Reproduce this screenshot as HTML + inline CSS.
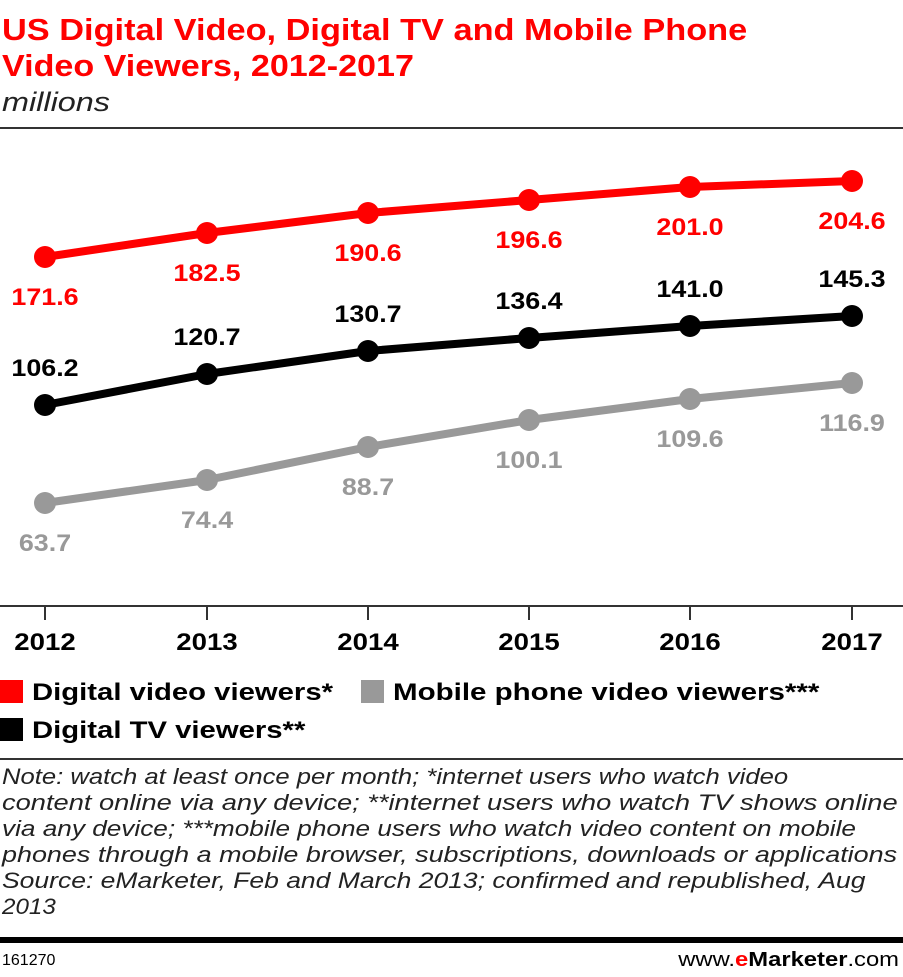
<!DOCTYPE html>
<html><head><meta charset="utf-8"><style>
html,body{margin:0;padding:0;background:#fff;}
body{width:903px;height:972px;overflow:hidden;font-family:"Liberation Sans",sans-serif;}
</style></head><body>
<svg width="903" height="972" xmlns="http://www.w3.org/2000/svg" font-family="Liberation Sans, sans-serif">
<text transform="translate(2,40) scale(1.108,1)" font-size="31" font-weight="bold" fill="#ff0000">US Digital Video, Digital TV and Mobile Phone</text>
<text transform="translate(2,76) scale(1.1,1)" font-size="31" font-weight="bold" fill="#ff0000">Video Viewers, 2012-2017</text>
<text transform="translate(2,111) scale(1.2,1)" font-size="27" font-style="italic" fill="#222">millions</text>
<rect x="0" y="127" width="903" height="2" fill="#333"/>
<line x1="0" y1="606" x2="903" y2="606" stroke="#333" stroke-width="2"/>
<g stroke="#333" stroke-width="2">
<line x1="45" y1="606" x2="45" y2="620"/><line x1="207" y1="606" x2="207" y2="620"/><line x1="368" y1="606" x2="368" y2="620"/><line x1="529" y1="606" x2="529" y2="620"/><line x1="690" y1="606" x2="690" y2="620"/><line x1="852" y1="606" x2="852" y2="620"/>
</g>
<g font-size="24" font-weight="bold" text-anchor="middle" fill="#000">
<text transform="translate(45,650) scale(1.15,1)">2012</text><text transform="translate(207,650) scale(1.15,1)">2013</text><text transform="translate(368,650) scale(1.15,1)">2014</text><text transform="translate(529,650) scale(1.15,1)">2015</text><text transform="translate(690,650) scale(1.15,1)">2016</text><text transform="translate(852,650) scale(1.15,1)">2017</text>
</g>
<g fill="none" stroke-width="8" stroke-linejoin="round">
<polyline stroke="#ff0000" points="45,257 207,233 368,213 529,200 690,187 852,181"/>
<polyline stroke="#000" points="45,405 207,374 368,351 529,338 690,326 852,316"/>
<polyline stroke="#999" points="45,503 207,480 368,447 529,420 690,399 852,383"/>
</g>
<g fill="#ff0000"><circle cx="45" cy="257" r="11"/><circle cx="207" cy="233" r="11"/><circle cx="368" cy="213" r="11"/><circle cx="529" cy="200" r="11"/><circle cx="690" cy="187" r="11"/><circle cx="852" cy="181" r="11"/></g>
<g fill="#000"><circle cx="45" cy="405" r="11"/><circle cx="207" cy="374" r="11"/><circle cx="368" cy="351" r="11"/><circle cx="529" cy="338" r="11"/><circle cx="690" cy="326" r="11"/><circle cx="852" cy="316" r="11"/></g>
<g fill="#999"><circle cx="45" cy="503" r="11"/><circle cx="207" cy="480" r="11"/><circle cx="368" cy="447" r="11"/><circle cx="529" cy="420" r="11"/><circle cx="690" cy="399" r="11"/><circle cx="852" cy="383" r="11"/></g>
<g font-size="24" font-weight="bold" text-anchor="middle">
<g fill="#ff0000"><text transform="translate(45,305) scale(1.12,1)">171.6</text><text transform="translate(207,281) scale(1.12,1)">182.5</text><text transform="translate(368,261) scale(1.12,1)">190.6</text><text transform="translate(529,248) scale(1.12,1)">196.6</text><text transform="translate(690,235) scale(1.12,1)">201.0</text><text transform="translate(852,229) scale(1.12,1)">204.6</text></g>
<g fill="#000"><text transform="translate(45,376) scale(1.12,1)">106.2</text><text transform="translate(207,345) scale(1.12,1)">120.7</text><text transform="translate(368,322) scale(1.12,1)">130.7</text><text transform="translate(529,309) scale(1.12,1)">136.4</text><text transform="translate(690,297) scale(1.12,1)">141.0</text><text transform="translate(852,287) scale(1.12,1)">145.3</text></g>
<g fill="#999"><text transform="translate(45,551) scale(1.12,1)">63.7</text><text transform="translate(207,528) scale(1.12,1)">74.4</text><text transform="translate(368,495) scale(1.12,1)">88.7</text><text transform="translate(529,468) scale(1.12,1)">100.1</text><text transform="translate(690,447) scale(1.12,1)">109.6</text><text transform="translate(852,431) scale(1.12,1)">116.9</text></g>
</g>
<rect x="0" y="680" width="23" height="23" fill="#ff0000"/>
<rect x="361" y="680" width="23" height="23" fill="#999"/>
<rect x="0" y="718" width="23" height="23" fill="#000"/>
<g font-size="24" font-weight="bold" fill="#000">
<text transform="translate(32,700) scale(1.22,1)">Digital video viewers*</text>
<text transform="translate(393,700) scale(1.23,1)">Mobile phone video viewers***</text>
<text transform="translate(32,738) scale(1.22,1)">Digital TV viewers**</text>
</g>
<rect x="0" y="758" width="903" height="2" fill="#333"/>
<g font-size="22" font-style="italic" fill="#222">
<text transform="translate(2,784) scale(1.165,1)">Note: watch at least once per month; *internet users who watch video</text>
<text transform="translate(2,810) scale(1.24,1)">content online via any device; **internet users who watch TV shows online</text>
<text transform="translate(2,836) scale(1.19,1)">via any device; ***mobile phone users who watch video content on mobile</text>
<text transform="translate(2,862) scale(1.225,1)">phones through a mobile browser, subscriptions, downloads or applications</text>
<text transform="translate(2,888) scale(1.205,1)">Source: eMarketer, Feb and March 2013; confirmed and republished, Aug</text>
<text transform="translate(2,914) scale(1.1,1)">2013</text>
</g>
<rect x="0" y="937" width="903" height="6" fill="#000"/>
<text x="2" y="965" font-size="16" fill="#000">161270</text>
<text transform="translate(899,966) scale(1.19,1)" font-size="20" text-anchor="end" fill="#000">www.<tspan fill="#ff0000" font-weight="bold">e</tspan><tspan font-weight="bold">Marketer</tspan>.com</text>
</svg>
</body></html>
